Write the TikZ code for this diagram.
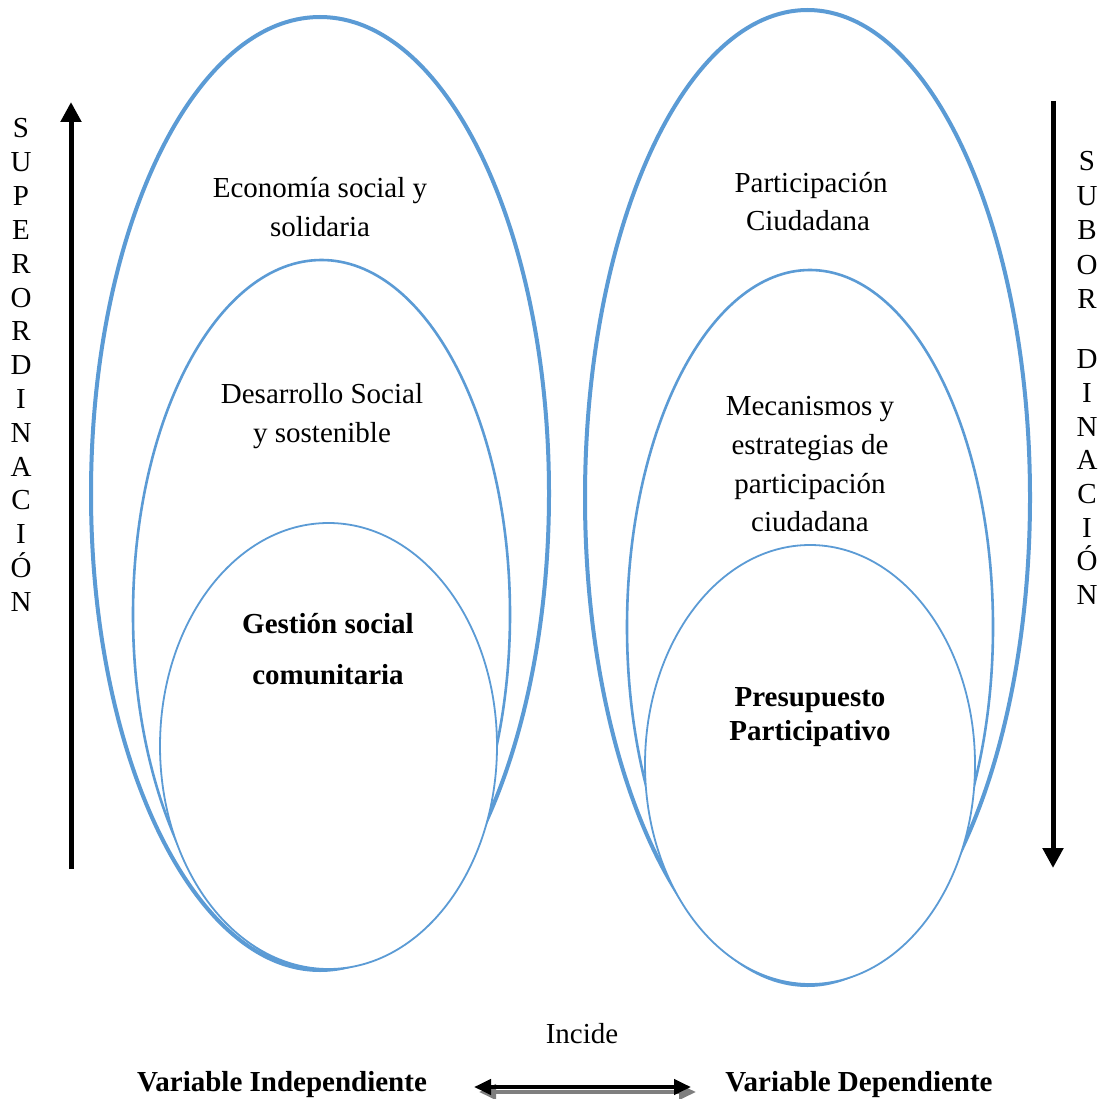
\documentclass[tikz,border=0pt]{standalone}
\usepackage{fontspec}
\setmainfont{Liberation Serif}
\usetikzlibrary{shapes.geometric,arrows.meta}
\definecolor{ringblue}{HTML}{5B9BD5}
\definecolor{shadowgray}{HTML}{7F7F7F}
\begin{document}
\begin{tikzpicture}[x=1pt,y=-1pt,
  ring/.style={ellipse,draw=ringblue,fill=white,inner sep=0pt,outer sep=0pt},
  lbl/.style={font=\fontsize{29}{38}\selectfont,anchor=base,inner sep=0pt},
  blbl/.style={lbl,font=\fontsize{29}{38}\selectfont\bfseries},
  vl/.style={lbl},
  bigarrow/.style={line width=5pt,-{Triangle[width=20pt,length=20pt]}},
]
\useasboundingbox (0,0) rectangle (1105,1099);
\fill[white] (0,0) rectangle (1105,1099);

% left ellipses
\node[ring,line width=4pt,minimum width=458pt,minimum height=953pt] (LO) at (320,493.5) {};
\node[ring,line width=2.6pt,minimum width=377pt,minimum height=709pt] (LM) at (321.5,614.5) {};
\node[ring,line width=1.8pt,minimum width=337pt,minimum height=446pt] (LI) at (328.5,746) {};

% right ellipses
\node[ring,line width=4pt,minimum width=445pt,minimum height=975pt] (RO) at (807.5,497.5) {};
\node[ring,line width=2.6pt,minimum width=366pt,minimum height=714pt] (RM) at (810,627) {};
\node[ring,line width=1.8pt,minimum width=330pt,minimum height=439pt] (RI) at (810,764.5) {};

% left texts
\node[lbl] (t1a) at (320,198) {Economía social y};
\node[lbl] (t1b) at (320,237) {solidaria};
\node[lbl] (t2a) at (322,403) {Desarrollo Social};
\node[lbl] (t2b) at (322,442) {y sostenible};
\node[blbl] (t3a) at (328,633) {Gestión social};
\node[blbl] (t3b) at (328,684) {comunitaria};

% right texts
\node[lbl] (r1a) at (811,193) {Participación};
\node[lbl] (r1b) at (808,231) {Ciudadana};
\node[lbl] (r2a) at (810,415) {Mecanismos y};
\node[lbl] (r2b) at (810,454) {estrategias de};
\node[lbl] (r2c) at (810,493) {participación};
\node[lbl] (r2d) at (810,531) {ciudadana};
\node[blbl] (r3a) at (810,706) {Presupuesto};
\node[blbl] (r3b) at (810,740) {Participativo};

% vertical words
\foreach \ch [count=\i] in {S,U,P,E,R,O,R,D,I,N,A,C,I,Ó,N}{
  \node[vl] (sup\i) at (21,{128+33.8*(\i-1)+10}) {\ch};
}
\foreach \ch/\yy [count=\i] in {S/161,U/196,B/230,O/264,R/298,D/358,I/392,N/426,A/459,C/493,I/527,Ó/560,N/594}{
  \node[vl] (sub\i) at (1087,\yy+10) {\ch};
}

% vertical arrows
\coordinate (la0) at (71,869);
\coordinate (la1) at (71,102);
\draw[bigarrow] (la0) -- (la1);
\coordinate (ra0) at (1053,101);
\coordinate (ra1) at (1053,868);
\draw[bigarrow] (ra0) -- (ra1);

% bottom
\node[lbl] (inc) at (582,1043) {Incide};
\node[blbl] (vi) at (282,1091) {Variable Independiente};
\node[blbl] (vd) at (859,1091) {Variable Dependiente};
\coordinate (ba0) at (474,1087);
\coordinate (ba1) at (691,1087);
\draw[shadowgray,line width=4pt,{Triangle[width=15pt,length=17pt]}-{Triangle[width=15pt,length=17pt]}] ([shift={(5,5)}]ba0) -- ([shift={(5,5)}]ba1);
\draw[black,line width=4pt,{Triangle[width=15pt,length=17pt]}-{Triangle[width=15pt,length=17pt]}] (ba0) -- (ba1);
\end{tikzpicture}
\end{document}
